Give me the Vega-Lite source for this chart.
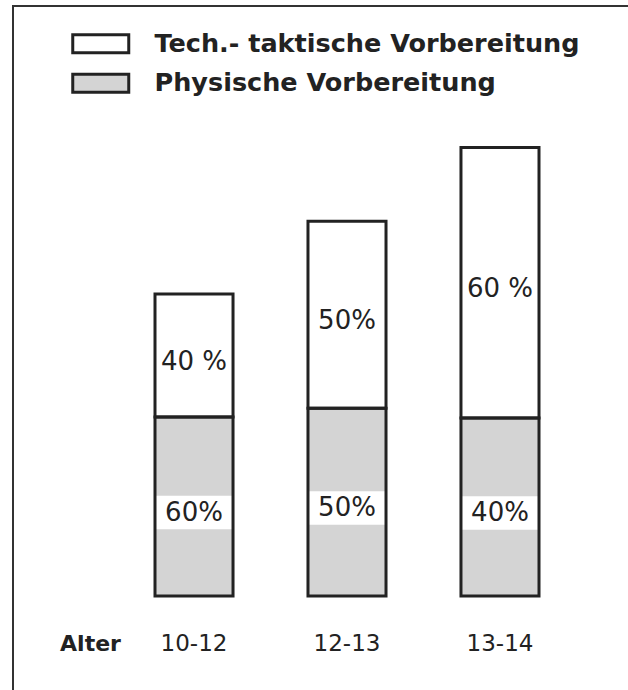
{
  "$schema": "https://vega.github.io/schema/vega-lite/v6.json",
  "width": 620,
  "height": 690,
  "autosize": {"type": "none"},
  "padding": {"left": 13, "top": 6, "right": 0, "bottom": 0},
  "background": "white",
  "config": {
    "view": {"stroke": "#333", "strokeWidth": 2},
    "font": "DejaVu Sans"
  },
  "data": {
    "values": [
      {"alter": "10-12", "art": "Physische Vorbereitung", "ord": 1, "wert": 182, "label": "60%"},
      {"alter": "10-12", "art": "Tech.- taktische Vorbereitung", "ord": 2, "wert": 125, "label": "40 %"},
      {"alter": "12-13", "art": "Physische Vorbereitung", "ord": 1, "wert": 191, "label": "50%"},
      {"alter": "12-13", "art": "Tech.- taktische Vorbereitung", "ord": 2, "wert": 190, "label": "50%"},
      {"alter": "13-14", "art": "Physische Vorbereitung", "ord": 1, "wert": 181, "label": "40%"},
      {"alter": "13-14", "art": "Tech.- taktische Vorbereitung", "ord": 2, "wert": 275, "label": "60 %"}
    ]
  },
  "transform": [
    {"stack": "wert", "groupby": ["alter"], "sort": [{"field": "ord", "order": "ascending"}], "as": ["y0", "y1"]},
    {"calculate": "(datum.y0 + datum.y1) / 2", "as": "ym"},
    {"calculate": "datum.ym - 6 - 17", "as": "b0"},
    {"calculate": "datum.ym - 6 + 17", "as": "b1"}
  ],
  "encoding": {
    "x": {
      "field": "alter",
      "type": "nominal",
      "sort": ["10-12", "12-13", "13-14"],
      "scale": {"domain": ["10-12", "12-13", "13-14"], "range": [142, 526], "paddingInner": 0.49, "paddingOuter": 0},
      "axis": {
        "title": "Alter",
        "titleX": 77,
        "titleY": -53,
        "titleAlign": "center",
        "titleBaseline": "middle",
        "titleFontSize": 22,
        "titleFontWeight": "bold",
        "titleFont": "DejaVu Sans",
        "titleColor": "#222",
        "labelFontSize": 23,
        "labelFont": "DejaVu Sans",
        "labelColor": "#222",
        "labelPadding": -53,
        "labelBaseline": "middle",
        "labelAngle": 0,
        "labelDx": -5,
        "ticks": false,
        "tickSize": 0,
        "domain": false,
        "grid": false
      }
    }
  },
  "layer": [
    {
      "mark": {"type": "bar", "strokeWidth": 0},
      "encoding": {
        "y": {"field": "y1", "type": "quantitative", "scale": {"domain": [0, 590], "range": [590, 0]}, "axis": null},
        "y2": {"field": "y0"},
        "fill": {
          "field": "art",
          "type": "nominal",
          "scale": {"domain": ["Tech.- taktische Vorbereitung", "Physische Vorbereitung"], "range": ["white", "#d4d4d4"]},
          "legend": {
            "orient": "none",
            "legendX": 75,
            "legendY": 25,
            "title": null,
            "symbolType": "M-2.8,-0.9H2.8V0.9H-2.8Z",
            "symbolSize": 400,
            "symbolStrokeColor": "#222",
            "symbolStrokeWidth": 3,
            "symbolOpacity": 1,
            "labelFontSize": 25.5,
            "labelFont": "DejaVu Sans",
            "labelFontWeight": "bold",
            "labelColor": "#222",
            "labelOffset": 41,
            "labelLimit": 600,
            "rowPadding": 8.5,
            "padding": 0
          }
        }
      }
    },
    {
      "transform": [{"filter": "datum.ord == 1"}],
      "mark": {"type": "bar", "fill": "white", "strokeWidth": 0},
      "encoding": {
        "y": {"field": "b1", "type": "quantitative", "axis": null},
        "y2": {"field": "b0"}
      }
    },
    {
      "mark": {"type": "bar", "fillOpacity": 0, "stroke": "#222", "strokeWidth": 3},
      "encoding": {
        "y": {"field": "y1", "type": "quantitative", "axis": null},
        "y2": {"field": "y0"}
      }
    },
    {
      "mark": {"type": "text", "fontSize": 26, "font": "DejaVu Sans", "color": "#222", "dy": 6, "baseline": "middle", "align": "center"},
      "encoding": {
        "y": {"field": "ym", "type": "quantitative", "axis": null},
        "text": {"field": "label", "type": "nominal"}
      }
    }
  ]
}
